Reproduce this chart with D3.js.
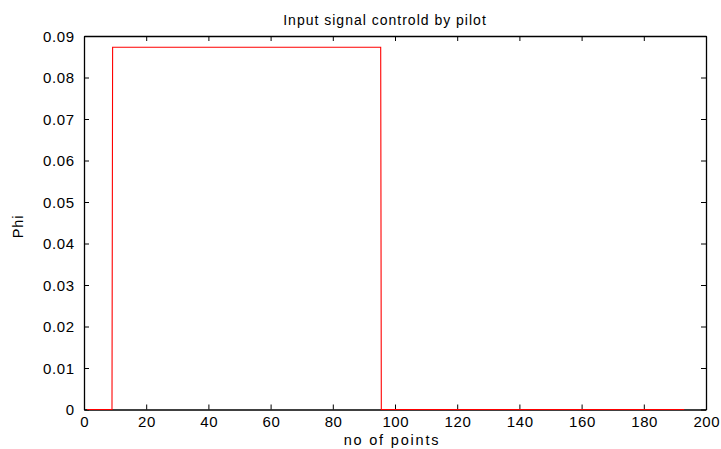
<!DOCTYPE html>
<html><head><meta charset="utf-8">
<script src="https://cdn.jsdelivr.net/npm/d3@7"></script>
<style>body{margin:0;background:#fff}svg{display:block}text{font-family:"Liberation Sans",Arial,sans-serif}</style>
</head><body>
<svg id="c" width="721" height="449"></svg>
<script>
const xs = [1, 9, 9.2, 95.4, 95.6, 193];
const ys = [0, 0, 0.0873, 0.0873, 0, 0];
const xTicks = [0,20,40,60,80,100,120,140,160,180,200];
const yTicks = [0,0.01,0.02,0.03,0.04,0.05,0.06,0.07,0.08,0.09];
const title = "Input signal controld by pilot";
const xLabel = "no of points";
const yLabel = "Phi";

const W=721,H=449, L=84, R=706, T=36, B=409.5;
const FONT='"Liberation Sans", Arial, sans-serif';
const svg=d3.select("#c");
svg.append("rect").attr("width",W).attr("height",H).attr("fill","#fff");
const x=d3.scaleLinear().domain([0,200]).range([L,R]);
const y=d3.scaleLinear().domain([0,0.09]).range([B,T]);

const fmt = d=> d===0?"0":d3.format(".2f")(d);
const ax=svg.append("g");
const gb=ax.append("g").attr("transform",`translate(0,${B})`).call(d3.axisBottom(x).tickValues(xTicks).tickSizeInner(-5).tickSizeOuter(0));
const gt=ax.append("g").attr("transform",`translate(0,${T})`).call(d3.axisTop(x).tickValues(xTicks).tickSizeInner(-5).tickSizeOuter(0).tickFormat(""));
const gl=ax.append("g").attr("transform",`translate(${L},0)`).call(d3.axisLeft(y).tickValues(yTicks).tickFormat(fmt).tickSizeInner(-5).tickSizeOuter(0));
const gr=ax.append("g").attr("transform",`translate(${R},0)`).call(d3.axisRight(y).tickValues(yTicks).tickSizeInner(-5).tickSizeOuter(0).tickFormat(""));
[gb,gt,gl,gr].forEach(g=>{g.attr("font-family",FONT).attr("font-size",15);g.selectAll(".domain").attr("stroke","#000").attr("stroke-width",1.3);g.selectAll(".tick line").attr("stroke","#000");g.selectAll("text").attr("fill","#000").attr("letter-spacing",0.6);});
gb.selectAll(".tick text").attr("y",17.5).attr("dy",0).attr("dx",0.3);
gl.selectAll(".tick text").attr("x",-9.4).attr("dy","0.36em");

const line=d3.line().x((d,i)=>x(xs[i])).y((d,i)=>y(ys[i]));
svg.append("path").datum(xs).attr("d",line).attr("fill","none").attr("stroke","#ff0000").attr("stroke-width",1.1);

svg.append("text").attr("x",385).attr("y",25).attr("text-anchor","middle").attr("font-size",14).attr("letter-spacing",1).text(title);
svg.append("text").attr("x",392).attr("y",445).attr("text-anchor","middle").attr("font-size",14.5).attr("letter-spacing",1.8).text(xLabel);
svg.append("text").attr("transform",`translate(23,226.5) rotate(-90)`).attr("text-anchor","middle").attr("font-size",14.5).attr("letter-spacing",0.8).text(yLabel);
</script>
</body></html>
